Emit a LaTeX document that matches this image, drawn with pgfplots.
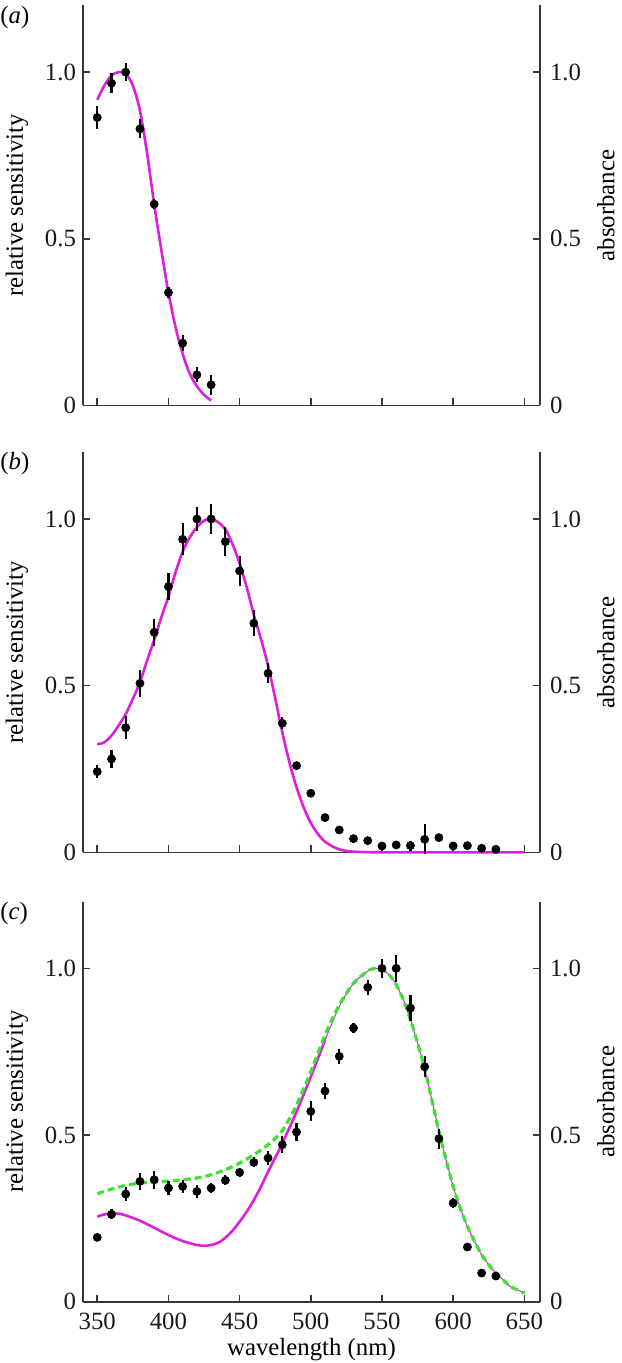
\documentclass[border=0pt]{standalone}
\usepackage{fontspec}
\setmainfont{Liberation Serif}
\newfontfamily\figfont{Liberation Serif}
\usepackage{pgfplots}
\usepackage{pgfplotstable}
\pgfplotsset{compat=1.18}

\definecolor{mag}{RGB}{222,30,222}
\definecolor{grn}{RGB}{60,225,50}
\definecolor{axgray}{RGB}{55,55,55}
\newcommand{\ff}{\figfont\fontsize{12.4}{15}\selectfont}

\pgfplotsset{
 common/.style={
  scale only axis, width=228.5pt, height=200pt,
  xmin=340, xmax=661, ymin=0, ymax=1.2,
  axis line style={-, draw=axgray, line width=0.8pt},
  tick align=inside, major tick length=3.5pt,
  tick style={axgray, line width=0.8pt},
  xtick={350,400,...,650},
  ytick={0,0.5,1}, yticklabels={0,0.5,1.0},
  tick label style={font=\ff, text=black!90},
  label style={font=\ff, text=black!90},
  /pgf/number format/assume math mode=true,
  clip=false,
 },
 lpanel/.style={common,
  axis x line*=bottom, axis y line*=left,
  xticklabel style={yshift=-2pt},
  ylabel={relative sensitivity},
  every axis y label/.style={at={(axis description cs:-0.1444,0.5)}, rotate=90, anchor=center, inner sep=0pt, font=\ff},
 },
 rpanel/.style={common,
  axis x line=none, axis y line*=right,
  yticklabel style={xshift=1.5pt},
  ylabel={absorbance},
  every axis y label/.style={at={(axis description cs:1.1444,0.5)}, rotate=90, anchor=center, inner sep=0pt, font=\ff},
 },
 pts/.style={only marks, mark=*, mark size=2pt, black,
  error bars/.cd, y dir=both, y explicit, error mark=none,
  error bar style={line width=1.1pt, black}},
 magline/.style={mag, line width=1.3pt, no marks, smooth},
 grnline/.style={grn, line width=1.6pt, no marks, smooth, dash pattern=on 3.5pt off 2pt},
}

\pgfplotstableread{
x y e
350 0.864 0.034
360 0.967 0.030
370 1.000 0.028
380 0.830 0.028
390 0.604 0.015
400 0.339 0.017
410 0.187 0.024
420 0.092 0.023
430 0.062 0.030
}\ptsA

\pgfplotstableread{
x y
350 0.917
355 0.960
360 0.990
365 1.000
370 0.995
375 0.960
380 0.885
385 0.757
390 0.604
395 0.467
400 0.339
405 0.235
410 0.155
415 0.095
420 0.058
425 0.032
430 0.015
}\curveA

\pgfplotstableread{
x y e
350 0.242 0.020
360 0.280 0.028
370 0.374 0.034
380 0.507 0.040
390 0.660 0.040
400 0.797 0.040
410 0.939 0.048
420 1.000 0.035
430 1.000 0.044
440 0.932 0.043
450 0.844 0.044
460 0.687 0.039
470 0.537 0.030
480 0.387 0.018
490 0.260 0.010
500 0.177 0.000
510 0.104 0.000
520 0.067 0.000
530 0.041 0.000
540 0.035 0.000
550 0.019 0.008
560 0.022 0.000
570 0.020 0.015
580 0.039 0.045
590 0.044 0.000
600 0.019 0.012
610 0.020 0.000
620 0.012 0.000
630 0.009 0.000
}\ptsB

\pgfplotstableread{
x y
350 0.324
355 0.330
360 0.350
365 0.380
370 0.415
375 0.460
380 0.510
385 0.575
390 0.637
395 0.705
400 0.767
405 0.840
410 0.902
415 0.945
420 0.975
425 0.995
430 1.000
435 0.990
440 0.969
445 0.925
450 0.867
455 0.795
460 0.712
465 0.640
470 0.560
475 0.462
480 0.360
485 0.270
490 0.195
495 0.135
500 0.088
505 0.055
510 0.032
515 0.018
520 0.009
525 0.004
530 0.002
540 0.0005
550 0.0
600 0.0
650 0.0
}\curveB

\pgfplotstableread{
x y e
350 0.193 0.000
360 0.262 0.015
370 0.323 0.022
380 0.361 0.025
390 0.366 0.027
400 0.341 0.022
410 0.346 0.020
420 0.331 0.020
430 0.341 0.015
440 0.364 0.015
450 0.388 0.013
460 0.418 0.015
470 0.431 0.022
480 0.471 0.025
490 0.509 0.028
500 0.571 0.030
510 0.632 0.025
520 0.736 0.022
530 0.821 0.015
540 0.943 0.022
550 1.000 0.028
560 1.000 0.040
570 0.881 0.038
580 0.705 0.032
590 0.489 0.030
600 0.296 0.015
610 0.164 0.000
620 0.086 0.000
630 0.077 0.000
}\ptsC

\pgfplotstableread{
x y
350 0.255
355 0.262
360 0.265
365 0.264
370 0.259
380 0.243
390 0.222
400 0.200
410 0.182
420 0.170
425 0.168
430 0.170
435 0.177
440 0.192
445 0.213
450 0.240
455 0.270
460 0.305
465 0.345
470 0.390
475 0.432
480 0.475
490 0.570
500 0.675
510 0.785
}\curveCm

\pgfplotstableread{
x y
510 0.785
520 0.885
530 0.955
540 0.992
545 1.000
550 0.996
555 0.981
560 0.951
565 0.906
570 0.846
575 0.776
580 0.700
585 0.606
590 0.511
595 0.426
600 0.346
605 0.281
610 0.226
615 0.181
620 0.141
625 0.111
630 0.086
635 0.066
640 0.046
645 0.036
650 0.026
}\curveCmthin

\pgfplotstableread{
x y
350 0.324
360 0.338
370 0.349
380 0.356
390 0.359
400 0.362
410 0.366
420 0.371
430 0.381
440 0.396
450 0.416
460 0.441
470 0.471
480 0.513
490 0.590
500 0.690
510 0.800
520 0.890
530 0.955
540 0.992
545 1.000
550 0.996
555 0.981
560 0.951
565 0.906
570 0.846
575 0.776
580 0.700
585 0.606
590 0.511
595 0.426
600 0.346
605 0.281
610 0.226
615 0.181
620 0.141
625 0.111
630 0.086
635 0.066
640 0.046
645 0.036
650 0.026
}\curveCg

\begin{document}
\begin{tikzpicture}
\useasboundingbox (0pt,0pt) rectangle (310.5pt,-681.5pt);

% ---------- panel (a)
\begin{axis}[lpanel, at={(41.5pt,-202.75pt)}, anchor=south west, xticklabels={}]
\addplot[magline] table[x=x,y=y] {\curveA};
\addplot[pts] table[x=x,y=y,y error=e] {\ptsA};
\end{axis}
\begin{axis}[rpanel, at={(41.5pt,-202.75pt)}, anchor=south west]
\end{axis}

% ---------- panel (b)
\begin{axis}[lpanel, at={(41.5pt,-426.15pt)}, anchor=south west, xticklabels={}]
\addplot[magline] table[x=x,y=y] {\curveB};
\addplot[pts] table[x=x,y=y,y error=e] {\ptsB};
\end{axis}
\begin{axis}[rpanel, at={(41.5pt,-426.15pt)}, anchor=south west]
\end{axis}

% ---------- panel (c)
\begin{axis}[lpanel, at={(41.5pt,-650.85pt)}, anchor=south west,
  xlabel={wavelength (nm)},
  every axis x label/.style={at={(axis description cs:0.5,-0.12)}, anchor=center, inner sep=0pt, font=\ff}]
\addplot[magline] table[x=x,y=y] {\curveCm};
\addplot[mag, line width=0.5pt, no marks, smooth] table[x=x,y=y] {\curveCmthin};
\addplot[grnline] table[x=x,y=y] {\curveCg};
\addplot[pts] table[x=x,y=y,y error=e] {\ptsC};
\end{axis}
\begin{axis}[rpanel, at={(41.5pt,-650.85pt)}, anchor=south west]
\end{axis}

\node[anchor=west, inner sep=0pt, font=\ff] at (0pt,-8.6pt) {(\textit{a})};
\node[anchor=west, inner sep=0pt, font=\ff] at (0pt,-232pt) {(\textit{b})};
\node[anchor=west, inner sep=0pt, font=\ff] at (0pt,-456.7pt) {(\textit{c})};
\end{tikzpicture}
\end{document}
